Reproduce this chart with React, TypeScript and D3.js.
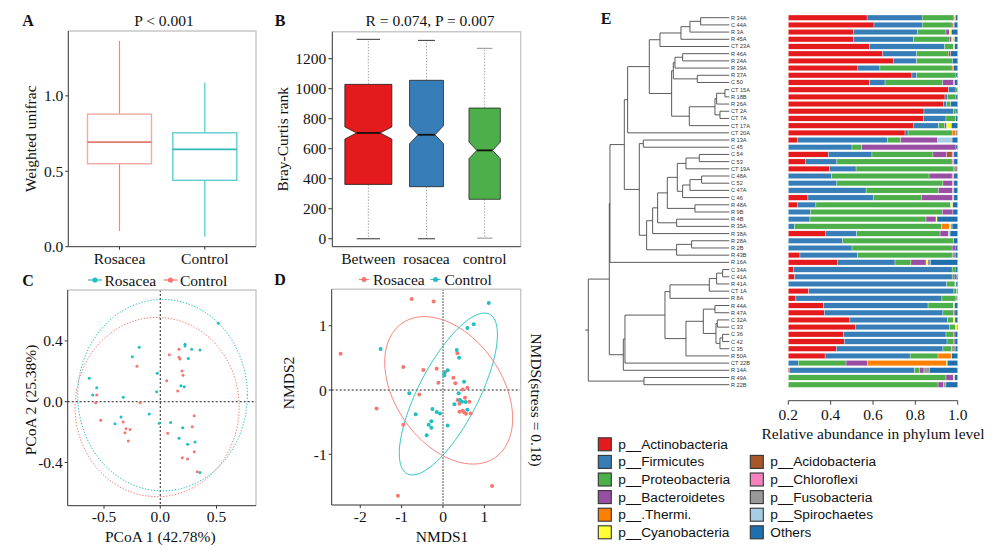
import React, { useEffect, useRef } from "react";
import * as d3 from "d3";

const SERIF = "'Liberation Serif','Times New Roman',serif";
const SANS = "'Liberation Sans',Arial,sans-serif";
const SALMON = "#f8766d";
const TEAL = "#1fbfc2";

// ---------- A: weighted unifrac boxplot ----------
const unifracGroups = ["Rosacea", "Control"];
const unifracStats = [
  { min: 0.104, q1: 0.55, med: 0.693, q3: 0.879, max: 1.364 },
  { min: 0.066, q1: 0.44, med: 0.645, q3: 0.755, max: 1.089 },
];
const unifracTicks = [0, 0.5, 1.0];

// ---------- B: Bray-Curtis rank (notched, varwidth) ----------
const rankGroups = ["Between", "rosacea", "control"];
const rankStats = [
  { min: 0, q1: 362, med: 705, q3: 1029, max: 1329, n: 675 },
  { min: 0, q1: 347, med: 693, q3: 1056, max: 1322, n: 351 },
  { min: 4, q1: 263, med: 589, q3: 871, max: 1269, n: 300 },
];
const rankFill = ["#e41a1c", "#377eb8", "#4daf4a"];
const rankTicks = [0, 200, 400, 600, 800, 1000, 1200];

// ---------- C: PCoA ----------
const pcoaRosacea: [number, number][] = [
  [0.516, 0.516], [-0.187, 0.358], [-0.249, 0.296], [0.22, 0.378], [0.22, 0.366],
  [0.279, 0.345], [0.353, 0.34], [0.249, 0.285], [-0.027, 0.187], [-0.631, 0.154],
  [-0.565, 0.092], [-0.601, 0.044], [-0.329, 0.029], [-0.032, 0.066], [0.184, 0.105],
  [0.213, 0.099], [-0.098, -0.081], [0.092, -0.136], [-0.009, -0.142], [-0.349, -0.101],
  [-0.403, -0.145], [0.199, -0.171], [0.166, -0.241], [0.243, -0.28], [0.308, -0.265],
  [0.353, -0.465],
];
const pcoaControl: [number, number][] = [
  [0.166, 0.345], [0.08, 0.309], [0.166, 0.292], [0.175, 0.281], [-0.207, 0.233],
  [0.193, 0.202], [0.202, 0.174], [0.057, 0.138], [0.155, 0.07], [-0.565, 0.044],
  [-0.574, -0.007], [-0.18, -0.007], [-0.53, -0.122], [-0.329, -0.134], [-0.305, -0.178],
  [-0.269, -0.182], [-0.314, -0.204], [-0.284, -0.259], [0.302, -0.092], [0.284, -0.164],
  [0.066, -0.208], [0.196, -0.368], [0.243, -0.377], [0.302, -0.329], [0.329, -0.461],
];
// ellipse: centre, semi-axis vectors
const pcoaEllipseRosacea = { c: [0.02, 0.043], u: [0.754, 0], v: [0, 0.63] };
const pcoaEllipseControl = { c: [-0.028, -0.035], u: [0.73, 0], v: [0, 0.59] };

// ---------- D: NMDS ----------
const nmdsRosacea: [number, number][] = [
  [-0.758, 1.418], [-0.226, 1.377], [-2.476, 0.566], [0.347, 0.571], [-0.96, 0.358],
  [-0.476, 0.312], [-0.153, 0.332], [0.048, 0.275], [-0.113, 0.114], [0.25, 0.192],
  [0.298, 0.104], [0.476, 0.01], [0.589, 0.036], [-0.573, -0.068], [0.355, -0.156],
  [0.532, -0.119], [0.637, -0.182], [0.395, -0.213], [0.476, -0.322], [0.395, -0.338],
  [0.508, -0.348], [0.556, -0.369], [0.669, -0.364], [-1.605, -0.286], [-0.96, -0.54],
  [-1.089, -1.647], [1.185, -1.496],
];
const nmdsControl: [number, number][] = [
  [1.105, 1.356], [0.742, 1.023], [0.589, 0.966], [-1.508, 0.639], [0.331, 0.623],
  [0.387, 0.504], [0.113, 0.306], [0.032, 0.27], [0.032, 0.229], [0.508, 0.13],
  [0.379, -0.052], [0.411, -0.156], [0.46, -0.182], [0.548, -0.187], [0.274, -0.223],
  [0.589, -0.306], [-0.815, -0.052], [-0.258, -0.296], [-0.153, -0.343], [-0.073, -0.364],
  [-0.661, -0.379], [-0.282, -0.488], [-0.347, -0.54], [-0.282, -0.587], [-0.395, -0.706],
  [0.113, -0.551],
];
const nmdsEllipseRosacea = { c: [0.137, -0.005], u: [1.125, -1.046], v: [-1.06, -0.473] };
const nmdsEllipseControl = { c: [0.129, -0.062], u: [0.995, 1.242], v: [0.645, -0.2145] };

// ---------- E: dendrogram + phylum bars ----------
type Tree = string | [number, Tree, Tree];
const sampleTree: Tree = [4.23,
  [3.6,
    [3.58,
      [3.15,
        [3.05,
          [2.4,
            [2.08, [1.45, [1.18, [0.86, "R 34A", "C 44A"], "R 3A"], "R 45A"], "CT 23A"],
            [1.73,
              [1.68, [1.63, [1.4, "R 46A", "R 24A"], "R 39A"], [0.96, "R 37A", "C 50"]],
              [1.2, [0.43, [0.38, [0.13, "CT 15A", "R 18B"], "R 26A"], [0.28, "CT 2A", "CT 7A"]], "CT 17A"]]],
          "CT 20A"],
        [2.7,
          [2.58, "R 13A", "C 45"],
          [2.48,
            [2.3,
              [2.15,
                [1.86,
                  [1.56, [1.3, [0.9, "C 54", "C 53"], "CT 19A"], [1.4, [1.18, [0.83, "C 48A", "C 52"], "C 47A"], "C 46"]],
                  [1.03, "R 48A", "R 9B"]],
                [1.58, "R 4B", "R 35A"]],
              "R 38A"],
            [1.58, [1.13, "R 28A", "R 2B"], "R 43B"]]]],
      "R 16A"],
    [3.18,
      [3.13,
        [1.93,
          [1.78, [0.6, [0.38, [0.2, "C 34A", "C 41A"], "R 41A"], "CT 1A"], "R 8A"],
          [1.3, [0.78, [0.43, "R 44A", "R 47A"], [0.4, [0.36, "C 32A", "C 33"], [0.28, [0.2, "C 36", "C 42"], "C 35"]]], "R 50A"]],
        "CT 22B"],
      "R 14A"]],
  [2.56, "R 49A", "R 22B"]];

const phyla = [
  "p__Actinobacteria", "p__Firmicutes", "p__Proteobacteria", "p__Bacteroidetes",
  "p__.Thermi.", "p__Cyanobacteria", "p__Acidobacteria", "p__Chloroflexi",
  "p__Fusobacteria", "p__Spirochaetes", "Others",
];
const phylaColors = [
  "#e41a1c", "#377eb8", "#4daf4a", "#984ea3", "#ff7f00", "#ffff33",
  "#a65628", "#f781bf", "#999999", "#a6cee3", "#1f6fae",
];
// relative abundance (%) per sample, in dendrogram leaf order, columns as in `phyla`
const abundance = [
  [46.5, 32.5, 18.8, 0, 0.5, 0, 0, 0.5, 0, 0, 1.2],
  [50.6, 28.4, 17.7, 0, 0, 0, 0.6, 0.6, 0, 0, 2.1],
  [38.6, 37.6, 16.9, 2.0, 0, 1.2, 0, 0, 0, 0, 3.7],
  [38.6, 35.2, 21.3, 1.2, 0.6, 0.6, 0, 0, 0.8, 0, 1.7],
  [48.0, 44.3, 5.1, 0, 0, 0.8, 0, 0, 0, 0, 1.8],
  [55.7, 20.1, 18.7, 0, 0, 0, 1.4, 0, 0, 0, 4.1],
  [62.0, 13.8, 21.1, 0, 0, 0, 0, 0, 0, 0, 3.1],
  [41.1, 13.0, 42.6, 0, 0.8, 0, 0, 0, 0, 0, 2.5],
  [73.0, 2.8, 23.2, 0, 0, 0, 0, 0, 0, 0, 1.0],
  [48.0, 9.1, 34.0, 6.3, 0, 0, 0, 0.8, 0, 0, 1.8],
  [94.5, 4.5, 1.0, 0, 0, 0, 0, 0, 0, 0, 0],
  [92.5, 1.4, 5.1, 0, 0, 0, 0, 0, 0, 0, 1.0],
  [91.7, 1.8, 2.4, 0, 0, 0, 0, 0, 0, 0, 4.1],
  [80.1, 17.3, 1.6, 0, 0, 0, 0, 0, 0, 0, 1.0],
  [79.7, 13.4, 5.8, 0, 0, 0, 0, 0, 0, 0, 1.1],
  [73.8, 15.0, 3.5, 1.2, 0, 2.8, 0, 0, 0, 0, 3.7],
  [68.9, 1.8, 26.0, 0, 1.9, 0, 0, 0, 1.4, 0, 0],
  [5.3, 53.2, 7.8, 21.9, 0, 0, 0, 0, 0, 8.5, 3.3],
  [0, 37.6, 5.7, 55.7, 0, 0, 0, 0, 0, 0, 1.0],
  [23.6, 25.8, 36.0, 8.1, 0, 0, 3.2, 1.1, 0, 0, 2.2],
  [10.2, 18.5, 68.0, 0, 0, 0, 0, 1.1, 0, 0, 2.2],
  [24.2, 15.8, 57.8, 0, 0, 0, 0, 0, 2.2, 0, 0],
  [0, 25.6, 57.5, 13.6, 0, 0, 0, 1.1, 0, 0, 2.2],
  [0, 28.7, 62.6, 5.7, 0, 0, 0, 0.8, 0, 0, 2.2],
  [0, 45.9, 42.7, 8.4, 0, 0, 0, 0.8, 0, 0, 2.2],
  [11.6, 38.6, 28.5, 18.3, 0, 0, 0, 0.8, 0, 0, 2.2],
  [5.3, 11.0, 79.6, 0, 0, 1.2, 0, 0, 0, 0, 2.9],
  [0, 13.2, 77.7, 6.3, 0, 0, 0, 0, 0, 0, 2.8],
  [0, 12.8, 68.5, 5.9, 0, 0.6, 0, 0, 0, 0, 12.2],
  [0, 3.7, 86.7, 0, 4.7, 0.8, 0, 0, 0.8, 0, 3.3],
  [21.9, 18.5, 49.2, 4.9, 0, 0, 0, 0, 0, 1.0, 4.5],
  [0, 32.1, 65.5, 0, 0, 0, 0, 0, 0, 0, 2.4],
  [0, 37.6, 59.1, 1.8, 0, 0, 0, 0, 0, 0, 1.5],
  [6.9, 34.0, 55.8, 0, 0, 0, 0, 0, 1.8, 0, 1.5],
  [28.9, 34.1, 9.4, 8.9, 0, 1.0, 0, 0, 1.6, 0, 16.1],
  [3.0, 93.7, 1.8, 0, 0, 0, 0, 0, 0, 0, 1.5],
  [3.7, 93.0, 1.2, 1.2, 0, 0, 0, 0, 0, 0, 0.9],
  [0, 93.5, 4.9, 0, 0, 0.6, 0, 0, 0, 0, 1.0],
  [12.0, 85.8, 1.6, 0, 0, 0, 0, 0, 0, 0, 0.6],
  [4.5, 86.2, 8.3, 0, 0, 0, 0, 0, 1.0, 0, 0],
  [20.9, 61.6, 14.9, 0, 0, 0.8, 0, 0, 0, 0, 1.8],
  [21.3, 70.0, 6.3, 0.8, 0, 0, 0, 0, 0, 0, 1.6],
  [36.4, 57.5, 3.7, 0, 0, 0.8, 0, 0, 0, 0, 1.6],
  [39.6, 55.5, 3.4, 0, 0, 1.2, 0, 0, 0, 0, 0.3],
  [32.7, 60.4, 4.3, 1.0, 0, 0, 0, 0, 0, 0, 1.6],
  [33.1, 60.6, 3.7, 1.0, 0, 0, 0, 0, 0, 0, 1.6],
  [28.3, 63.0, 5.2, 0, 0, 0, 0, 0, 2.0, 0, 1.5],
  [21.7, 50.2, 16.5, 0, 7.7, 0.4, 0, 0, 0, 0, 3.5],
  [0, 5.9, 28.2, 12.6, 46.8, 0.4, 0, 0, 0, 0, 6.1],
  [0.6, 74.0, 2.8, 2.7, 0, 0, 0, 0, 3.2, 0, 16.7],
  [0, 0, 93.1, 4.3, 0, 0.8, 0, 0, 0, 0, 1.8],
  [0, 0, 88.4, 3.1, 0, 0, 0, 0, 1.6, 0, 6.9],
];
const abundanceTicks = [0.2, 0.4, 0.6, 0.8, 1.0];

type Sel = d3.Selection<any, unknown, null, undefined>;

function label(g: Sel, x: number, y: number, s: string, size = 15, anchor = "middle", extra?: (t: Sel) => void) {
  const t = g.append("text")
    .attr("x", x).attr("y", y)
    .attr("text-anchor", anchor)
    .attr("dominant-baseline", "central")
    .attr("font-family", SERIF)
    .attr("font-size", size)
    .attr("fill", "#111")
    .text(s);
  if (extra) extra(t);
  return t;
}

function panelLetter(g: Sel, x: number, y: number, s: string) {
  label(g, x, y, s, 16, "middle", (t) => t.attr("font-weight", "bold"));
}

function frame(g: Sel, x0: number, y0: number, x1: number, y1: number) {
  g.append("path").attr("d", `M${x0},${y0}H${x1}V${y1}`)
    .attr("fill", "none").attr("stroke", "#c8c8c8").attr("stroke-width", 1.4);
  g.append("path").attr("d", `M${x0},${y0}V${y1}H${x1}`)
    .attr("fill", "none").attr("stroke", "#333").attr("stroke-width", 1);
}

function ellipsePath(e: { c: number[]; u: number[]; v: number[] }, x: d3.ScaleLinear<number, number>, y: d3.ScaleLinear<number, number>) {
  const pts = d3.range(0, 101).map((i) => {
    const t = (i / 100) * Math.PI * 2;
    return [
      x(e.c[0] + e.u[0] * Math.cos(t) + e.v[0] * Math.sin(t)),
      y(e.c[1] + e.u[1] * Math.cos(t) + e.v[1] * Math.sin(t)),
    ] as [number, number];
  });
  return d3.line()(pts);
}

function drawA(svg: Sel) {
  const g = svg.append("g");
  const x0 = 68.3, x1 = 256, y0 = 31, y1 = 246.7;
  const y = d3.scaleLinear().domain([0, 1.43]).range([y1, y0]);
  const x = d3.scalePoint().domain(unifracGroups).range([x0, x1]).padding(0.6);
  const bw = x.step() * 0.75;
  const strokes = [
    { box: "#f3aaa3", med: "#e27a71", wh: "#ec8a82" },
    { box: "#5fcdd0", med: "#2fb8bb", wh: "#4fc6c9" },
  ];
  unifracGroups.forEach((grp, i) => {
    const s = unifracStats[i];
    const cx = x(grp)!;
    g.append("line").attr("x1", cx).attr("x2", cx).attr("y1", y(s.q3)).attr("y2", y(s.max))
      .attr("stroke", strokes[i].wh).attr("stroke-width", 1.2);
    g.append("line").attr("x1", cx).attr("x2", cx).attr("y1", y(s.q1)).attr("y2", y(s.min))
      .attr("stroke", strokes[i].wh).attr("stroke-width", 1.2);
    g.append("rect").attr("x", cx - bw / 2).attr("width", bw)
      .attr("y", y(s.q3)).attr("height", y(s.q1) - y(s.q3))
      .attr("fill", "#fff").attr("stroke", strokes[i].box).attr("stroke-width", 1.4);
    g.append("line").attr("x1", cx - bw / 2).attr("x2", cx + bw / 2).attr("y1", y(s.med)).attr("y2", y(s.med))
      .attr("stroke", strokes[i].med).attr("stroke-width", 1.6);
    label(g, cx, 258.5, grp, 15.5);
  });
  frame(g, x0, y0, x1, y1);
  unifracTicks.forEach((t) => {
    g.append("line").attr("x1", x0 - 3).attr("x2", x0).attr("y1", y(t)).attr("y2", y(t)).attr("stroke", "#333");
    label(g, x0 - 5, y(t), d3.format(".1f")(t), 15.5, "end");
  });
  unifracGroups.forEach((grp) => {
    g.append("line").attr("x1", x(grp)!).attr("x2", x(grp)!).attr("y1", y1).attr("y2", y1 + 3).attr("stroke", "#333");
  });
  label(g, 31, (y0 + y1) / 2, "Weighted unifrac", 15.5, "middle", (t) =>
    t.attr("transform", `rotate(-90, 31, ${(y0 + y1) / 2})`));
  label(g, 164, 20, "P < 0.001", 15.5);
  panelLetter(g, 28, 20, "A");
}

function drawB(svg: Sel) {
  const g = svg.append("g");
  const x0 = 332.3, x1 = 520.7, y0 = 31.7, y1 = 246.7;
  const y = d3.scaleLinear().domain([-53, 1380]).range([y1, y0]);
  const x = d3.scalePoint().domain(rankGroups).range([x0, x1]).padding(0.62);
  const maxN = d3.max(rankStats, (d) => d.n)!;
  const maxHalf = 23.5;
  rankGroups.forEach((grp, i) => {
    const s = rankStats[i];
    const cx = x(grp)!;
    const hw = maxHalf * Math.sqrt(s.n / maxN);
    const notch = (1.58 * (s.q3 - s.q1)) / Math.sqrt(s.n);
    const nu = s.med + notch, nl = s.med - notch;
    // whiskers
    [[s.q3, s.max], [s.q1, s.min]].forEach(([a, b]) => {
      g.append("line").attr("x1", cx).attr("x2", cx).attr("y1", y(a)).attr("y2", y(b))
        .attr("stroke", "#aaa").attr("stroke-width", 1).attr("stroke-dasharray", "1.5,1.5");
      g.append("line").attr("x1", cx - hw / 2).attr("x2", cx + hw / 2).attr("y1", y(b)).attr("y2", y(b))
        .attr("stroke", i === 2 ? "#999" : "#444").attr("stroke-width", 1.1);
    });
    const pts: [number, number][] = [
      [cx - hw, y(s.q3)], [cx + hw, y(s.q3)], [cx + hw, y(nu)], [cx + hw / 2, y(s.med)],
      [cx + hw, y(nl)], [cx + hw, y(s.q1)], [cx - hw, y(s.q1)], [cx - hw, y(nl)],
      [cx - hw / 2, y(s.med)], [cx - hw, y(nu)],
    ];
    g.append("path").attr("d", d3.line()(pts) + "Z")
      .attr("fill", rankFill[i]).attr("stroke", "#222").attr("stroke-width", 0.8);
    g.append("line").attr("x1", cx - hw / 2).attr("x2", cx + hw / 2).attr("y1", y(s.med)).attr("y2", y(s.med))
      .attr("stroke", "#111").attr("stroke-width", 1.8);
    label(g, cx, 258.5, grp, 15.5);
  });
  frame(g, x0, y0, x1, y1);
  rankTicks.forEach((t) => {
    g.append("line").attr("x1", x0 - 4).attr("x2", x0).attr("y1", y(t)).attr("y2", y(t)).attr("stroke", "#333");
    label(g, x0 - 6, y(t), String(t), 15.5, "end");
  });
  label(g, 283, (y0 + y1) / 2, "Bray-Curtis rank", 15.5, "middle", (t) =>
    t.attr("transform", `rotate(-90, 283, ${(y0 + y1) / 2})`));
  label(g, 430, 20, "R = 0.074, P = 0.007", 15.5);
  panelLetter(g, 280, 20, "B");
}

function drawC(svg: Sel) {
  const g = svg.append("g");
  const x0 = 67.7, x1 = 256, y0 = 290, y1 = 505.7;
  const x = d3.scaleLinear().domain([-0.823, 0.851]).range([x0, x1]);
  const y = d3.scaleLinear().domain([-0.684, 0.735]).range([y1, y0]);
  g.append("line").attr("x1", x(0)).attr("x2", x(0)).attr("y1", y0).attr("y2", y1)
    .attr("stroke", "#222").attr("stroke-dasharray", "2,2");
  g.append("line").attr("x1", x0).attr("x2", x1).attr("y1", y(0)).attr("y2", y(0))
    .attr("stroke", "#222").attr("stroke-dasharray", "2,2");
  g.append("path").attr("d", ellipsePath(pcoaEllipseRosacea, x, y))
    .attr("fill", "none").attr("stroke", TEAL).attr("stroke-width", 1).attr("stroke-dasharray", "1.3,1.7");
  g.append("path").attr("d", ellipsePath(pcoaEllipseControl, x, y))
    .attr("fill", "none").attr("stroke", SALMON).attr("stroke-width", 1).attr("stroke-dasharray", "1.3,1.7");
  pcoaControl.forEach(([a, b]) => g.append("circle").attr("cx", x(a)).attr("cy", y(b)).attr("r", 1.5).attr("fill", SALMON));
  pcoaRosacea.forEach(([a, b]) => g.append("circle").attr("cx", x(a)).attr("cy", y(b)).attr("r", 1.5).attr("fill", TEAL));
  frame(g, x0, y0, x1, y1);
  [-0.5, 0, 0.5].forEach((t) => {
    g.append("line").attr("x1", x(t)).attr("x2", x(t)).attr("y1", y1).attr("y2", y1 + 3).attr("stroke", "#333");
    label(g, x(t), 516.7, d3.format(".1f")(t).replace("−", "-"), 15.5);
  });
  [-0.4, 0, 0.4].forEach((t) => {
    g.append("line").attr("x1", x0 - 3).attr("x2", x0).attr("y1", y(t)).attr("y2", y(t)).attr("stroke", "#333");
    label(g, x0 - 5, y(t), d3.format(".1f")(t).replace("−", "-"), 15.5, "end");
  });
  label(g, x(0), 536, "PCoA 1 (42.78%)", 15.5);
  label(g, 30, 400, "PCoA 2 (25.38%)", 15.5, "middle", (t) => t.attr("transform", "rotate(-90, 30, 400)"));
  // legend
  const leg = [{ name: "Rosacea", c: TEAL, x: 88 }, { name: "Control", c: SALMON, x: 163.5 }];
  leg.forEach((l) => {
    g.append("line").attr("x1", l.x).attr("x2", l.x + 14).attr("y1", 280).attr("y2", 280).attr("stroke", l.c).attr("stroke-width", 1.2);
    g.append("circle").attr("cx", l.x + 7).attr("cy", 280).attr("r", 2.6).attr("fill", l.c);
    label(g, l.x + 16.5, 280, l.name, 15.5, "start");
  });
  panelLetter(g, 28, 280, "C");
}

function drawD(svg: Sel) {
  const g = svg.append("g");
  const x0 = 331.7, x1 = 520.7, y0 = 289.3, y1 = 505;
  const x = d3.scaleLinear().domain([-2.69, 1.877]).range([x0, x1]);
  const y = d3.scaleLinear().domain([-1.79, 1.568]).range([y1, y0]);
  g.append("line").attr("x1", x(0)).attr("x2", x(0)).attr("y1", y0).attr("y2", y1)
    .attr("stroke", "#222").attr("stroke-dasharray", "1.5,1.5");
  g.append("line").attr("x1", x0).attr("x2", x1).attr("y1", y(0)).attr("y2", y(0))
    .attr("stroke", "#222").attr("stroke-dasharray", "2,2");
  g.append("path").attr("d", ellipsePath(nmdsEllipseRosacea, x, y))
    .attr("fill", "none").attr("stroke", SALMON).attr("stroke-width", 0.9);
  g.append("path").attr("d", ellipsePath(nmdsEllipseControl, x, y))
    .attr("fill", "none").attr("stroke", TEAL).attr("stroke-width", 0.9);
  nmdsRosacea.forEach(([a, b]) => g.append("circle").attr("cx", x(a)).attr("cy", y(b)).attr("r", 2).attr("fill", SALMON));
  nmdsControl.forEach(([a, b]) => g.append("circle").attr("cx", x(a)).attr("cy", y(b)).attr("r", 2).attr("fill", TEAL));
  frame(g, x0, y0, x1, y1);
  [-2, -1, 0, 1].forEach((t) => {
    g.append("line").attr("x1", x(t)).attr("x2", x(t)).attr("y1", y1).attr("y2", y1 + 3).attr("stroke", "#333");
    label(g, x(t), 516.7, String(t), 15.5);
  });
  [-1, 0, 1].forEach((t) => {
    g.append("line").attr("x1", x0 - 3).attr("x2", x0).attr("y1", y(t)).attr("y2", y(t)).attr("stroke", "#333");
    label(g, x0 - 5, y(t), String(t), 15.5, "end");
  });
  label(g, 442, 536, "NMDS1", 15.5);
  label(g, 288, 383, "NMDS2", 15.5, "middle", (t) => t.attr("transform", "rotate(-90, 288, 383)"));
  label(g, 536.5, 400, "NMDS(stress = 0.18)", 15.5, "middle", (t) => t.attr("transform", "rotate(90, 536.5, 400)"));
  const leg = [{ name: "Rosacea", c: SALMON, x: 359 }, { name: "Control", c: TEAL, x: 430.5 }];
  leg.forEach((l) => {
    g.append("line").attr("x1", l.x).attr("x2", l.x + 10).attr("y1", 279.5).attr("y2", 279.5).attr("stroke", l.c).attr("stroke-width", 1);
    g.append("circle").attr("cx", l.x + 5).attr("cy", 279.5).attr("r", 2.5).attr("fill", l.c);
    label(g, l.x + 14, 279.5, l.name, 15.5, "start");
  });
  panelLetter(g, 280, 279.5, "D");
}

function drawE(svg: Sel) {
  const g = svg.append("g");
  const leaves: string[] = [];
  const collect = (t: Tree) => { if (typeof t === "string") leaves.push(t); else { collect(t[1]); collect(t[2]); } };
  collect(sampleTree);
  const yRow = d3.scaleLinear().domain([0, leaves.length - 1]).range([17.7, 384.7]);
  const xTree = d3.scaleLinear().domain([0, (sampleTree as any)[0]]).range([729.3, 588.3]);
  let idx = 0;
  const segs: string[] = [];
  const layout = (t: Tree): { x: number; y: number } => {
    if (typeof t === "string") { const p = { x: xTree(0), y: yRow(idx) }; idx++; return p; }
    const a = layout(t[1]); const b = layout(t[2]);
    const hx = xTree(t[0]);
    segs.push(`M${a.x},${a.y}H${hx}V${b.y}H${b.x}`);
    return { x: hx, y: (a.y + b.y) / 2 };
  };
  const root = layout(sampleTree);
  segs.forEach((d) => g.append("path").attr("d", d).attr("fill", "none").attr("stroke", "#4a4a4a").attr("stroke-width", 0.9));
  g.append("line").attr("x1", root.x - 3).attr("x2", root.x).attr("y1", root.y).attr("y2", root.y).attr("stroke", "#4a4a4a");
  leaves.forEach((l, i) => {
    g.append("text").attr("x", 731).attr("y", yRow(i)).attr("dominant-baseline", "central")
      .attr("font-family", SANS).attr("font-size", 5.6).attr("fill", "#333").text(l);
  });

  // stacked bars
  const xAb = d3.scaleLinear().domain([0.2, 1.0]).range([788.3, 957.7]);
  const barH = 5.4;
  abundance.forEach((row, i) => {
    const total = d3.sum(row);
    let cum = 0;
    row.forEach((v, j) => {
      if (v <= 0) return;
      const a = 0.2 + (0.8 * cum) / total;
      cum += v;
      const b = 0.2 + (0.8 * cum) / total;
      g.append("rect").attr("x", xAb(a)).attr("width", xAb(b) - xAb(a))
        .attr("y", yRow(i) - barH / 2).attr("height", barH)
        .attr("fill", phylaColors[j]).attr("stroke", "#fff").attr("stroke-width", 0.3);
    });
  });
  const axY = 400.7;
  g.append("line").attr("x1", xAb(0.2)).attr("x2", xAb(1.0)).attr("y1", axY).attr("y2", axY).attr("stroke", "#444");
  abundanceTicks.forEach((t) => {
    g.append("line").attr("x1", xAb(t)).attr("x2", xAb(t)).attr("y1", axY).attr("y2", axY + 4).attr("stroke", "#444");
    label(g, xAb(t), 414, d3.format(".1f")(t), 15.5);
  });
  label(g, 873, 433, "Relative abundance in phylum level", 15.5);

  // legend
  phyla.forEach((p, i) => {
    const col = i < 6 ? 0 : 1;
    const row = i < 6 ? i : i - 5;
    const lx = col === 0 ? 598.3 : 750.3;
    const ly = 444.3 + row * 17.6;
    g.append("rect").attr("x", lx).attr("y", ly - 6.5).attr("width", 13).attr("height", 13)
      .attr("fill", phylaColors[i]).attr("stroke", "#333").attr("stroke-width", 1.1);
    g.append("text").attr("x", lx + 20).attr("y", ly).attr("dominant-baseline", "central")
      .attr("font-family", SANS).attr("font-size", 13.7).attr("fill", "#111").text(p);
  });
  panelLetter(g, 606, 18, "E");
}

export default function App() {
  const ref = useRef<SVGSVGElement>(null);
  useEffect(() => {
    const svg = d3.select(ref.current) as Sel;
    svg.selectAll("*").remove();
    drawA(svg);
    drawB(svg);
    drawC(svg);
    drawD(svg);
    drawE(svg);
  }, []);
  return (
    <svg ref={ref} width={1000} height={554}
      style={{ position: "absolute", left: 0, top: 0, background: "#fff" }} />
  );
}
